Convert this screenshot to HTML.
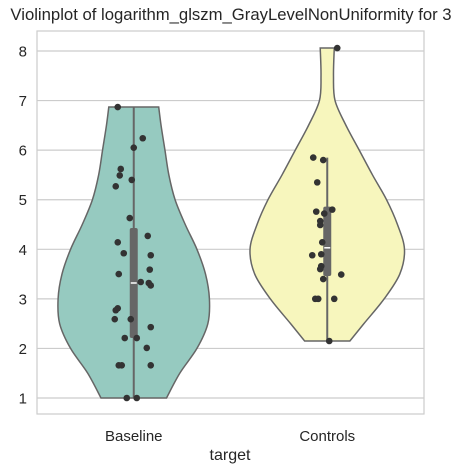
<!DOCTYPE html>
<html><head><meta charset="utf-8">
<style>
body{margin:0;background:#fff;}
svg{display:block;font-family:"Liberation Sans",Arial,sans-serif;}
</style></head>
<body>
<svg id="chart" width="460" height="473" viewBox="0 0 460 473">
<text x="231" y="20" text-anchor="middle" font-size="16.7" fill="#262626">Violinplot of logarithm_glszm_GrayLevelNonUniformity for 3</text>
<g id="grid"></g>
<g id="violins"></g>
<g id="points"></g>
<rect x="37" y="31" width="387" height="383" fill="none" stroke="#cccccc" stroke-width="1.2"/>
<g id="yticks"></g>
<g id="xticks"></g>
<text x="230" y="460" text-anchor="middle" font-size="16" fill="#262626">target</text>
</svg>
<script>
const categories = ["Baseline", "Controls"];
const yTicks = [1, 2, 3, 4, 5, 6, 7, 8];
const baselineValues = [6.87,6.24,6.05,5.62,5.49,5.40,5.27,4.63,4.27,4.14,3.92,3.88,3.59,3.50,3.34,3.32,3.27,2.81,2.77,2.59,2.59,2.43,2.21,2.21,2.01,1.66,1.66,1.66,1.0,1.0];
const baselineJitter = [-16,9,0,-13,-14,-2,-18,-4,14,-16,-10,17,16,-15,7,15,17,-16,-18,-19,-3,17,-9,3,13,-15,-12,17,-7,3];
const controlsValues = [8.06,5.85,5.80,5.35,4.76,4.80,4.72,4.57,4.49,4.14,3.88,3.90,3.66,3.60,3.49,3.40,3.0,3.0,3.0,2.15];
const controlsJitter = [10,-14,-4,-10,-11,5,-3,-7,-7,-5,-15,-6,-6,-7,14,-4,-12,-9,7,2];
const baselineLevels = [1.0,1.5,2.0,2.5,3.0,3.5,4.0,4.5,5.0,5.5,6.0,6.5,6.87];
const baselineDensity = [0.42,0.59,0.81,0.95,0.97,0.92,0.81,0.66,0.53,0.45,0.40,0.35,0.32];
const controlsLevels = [2.15,2.5,3.0,3.5,4.0,4.5,5.0,5.5,6.0,6.5,7.0,7.5,8.06];
const controlsDensity = [0.29,0.47,0.73,0.93,0.99,0.90,0.76,0.58,0.41,0.24,0.10,0.08,0.09];
const baselineBox = [1.0, 2.21, 3.32, 4.43, 6.87];
const controlsBox = [2.15, 3.46, 4.03, 4.86, 5.85];

const NS="http://www.w3.org/2000/svg";
const L=37,R=424,T=31,B=414;
const yS=v=>398-(v-1)*49.57;
const xS=i=>L+(R-L)/categories.length*(i+0.5);
const maxHW=78;
function mk(tag,attrs,parent){const e=document.createElementNS(NS,tag);for(const k in attrs)e.setAttribute(k,attrs[k]);parent.appendChild(e);return e;}
const grid=document.getElementById('grid'),yt=document.getElementById('yticks'),xt=document.getElementById('xticks');
yTicks.forEach(t=>{
  const ln=mk('line',{x1:L,x2:R,y1:yS(t),y2:yS(t),stroke:'#cccccc','stroke-width':1.2},grid);
  
  
  const tx=mk('text',{x:27,y:yS(t)+5.5,'text-anchor':'end','font-size':15,fill:'#262626'},yt);
  tx.textContent=t;
  
  
});
categories.forEach((c,i)=>{
  const tx=mk('text',{x:xS(i),y:441,'text-anchor':'middle','font-size':15,fill:'#262626'},xt);
  tx.textContent=c;
  
  
});
const vg=document.getElementById('violins'),pg=document.getElementById('points');
const groups=[[baselineLevels,baselineDensity,baselineBox,baselineValues,baselineJitter,'#96cac0'],[controlsLevels,controlsDensity,controlsBox,controlsValues,controlsJitter,'#f7f6bd']];
groups.forEach((g,i)=>{
  const [lv,dn,bx,vals,jit,col]=g;const cx=xS(i);
  let right=lv.map((v,k)=>[cx+dn[k]*maxHW,yS(v)]);
  let left=lv.map((v,k)=>[cx-dn[k]*maxHW,yS(v)]).reverse();
  function seg(pts){let d='';for(let k=0;k<pts.length-1;k++){const p0=pts[Math.max(k-1,0)],p1=pts[k],p2=pts[k+1],p3=pts[Math.min(k+2,pts.length-1)];
    d+=` C${p1[0]+(p2[0]-p0[0])/6},${p1[1]+(p2[1]-p0[1])/6} ${p2[0]-(p3[0]-p1[0])/6},${p2[1]-(p3[1]-p1[1])/6} ${p2[0]},${p2[1]}`;}return d;}
  const d=`M${right[0][0]},${right[0][1]}`+seg(right)+` L${left[0][0]},${left[0][1]}`+seg(left)+'Z';
  const v=mk('path',{d,fill:col,stroke:'#666666','stroke-width':1.5},vg);
  
  
  const w=mk('line',{x1:cx,x2:cx,y1:yS(bx[0]),y2:yS(bx[4]),stroke:'#666666','stroke-width':2},vg);
  
  
  const b=mk('rect',{x:cx-4,y:yS(bx[3]),width:8,height:yS(bx[1])-yS(bx[3]),fill:'#666666',rx:2},vg);
  
  
  const m=mk('line',{x1:cx-3,x2:cx+3,y1:yS(bx[2]),y2:yS(bx[2]),stroke:'#ffffff','stroke-width':1.5},vg);
  
  
  vals.forEach((val,k)=>{
    const c=mk('circle',{cx:cx+jit[k],cy:yS(val),r:3.3,fill:'#333333'},pg);
    
    
  });
});
</script>
</body></html>
